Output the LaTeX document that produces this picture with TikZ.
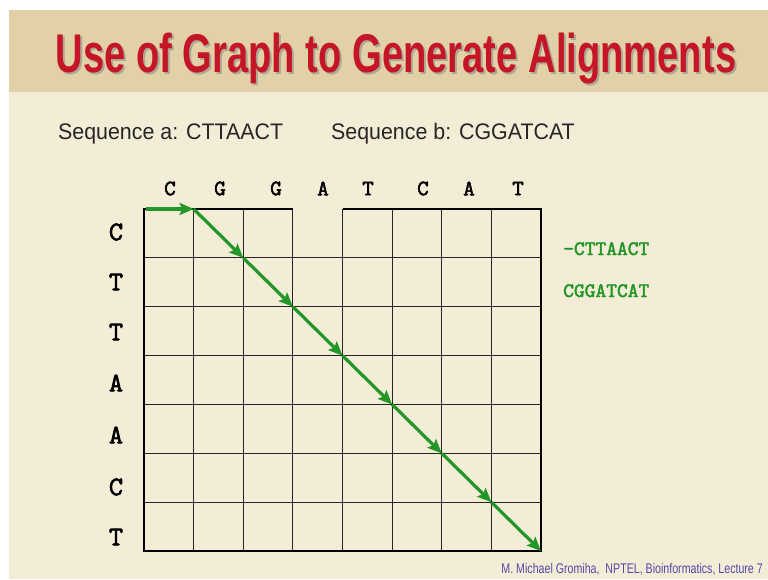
\documentclass[tikz,border=0pt]{standalone}
\usepackage{fontspec}
\setmainfont{Liberation Sans}
\newfontfamily\titlefont[FakeStretch=0.70]{Liberation Sans}
\newfontfamily\seqfont[FakeStretch=0.95]{Liberation Sans}
\newfontfamily\footfont[FakeStretch=0.76]{Liberation Sans}
\newfontfamily\basefont[Extension=.otf, FakeBold=2.2]{lmmono10-regular}
\usetikzlibrary{arrows.meta,positioning}
\definecolor{bandtan}{RGB}{226,209,166}
\definecolor{paper}{RGB}{243,236,214}
\definecolor{titlered}{RGB}{196,22,38}
\definecolor{pathgreen}{RGB}{34,150,38}
\definecolor{footblue}{RGB}{82,72,168}

\begin{document}
\begin{tikzpicture}[
    x=1pt, y=-1pt,
    rowlab/.style={font=\basefont\fontsize{27}{27}\selectfont, inner sep=0pt},
    collab/.style={font=\basefont\fontsize{22}{22}\selectfont, inner sep=0pt},
    alnlab/.style={font=\basefont\fontsize{20.5}{20.5}\selectfont, text=pathgreen, inner sep=0pt, anchor=base west},
    seqlab/.style={font=\seqfont\fontsize{22.5}{22.5}\selectfont, text=black!85, inner sep=0pt, anchor=base west},
    cell/.style={draw=black!85, line width=1.1pt},
    gridframe/.style={draw=black, line width=2.6pt},
    move/.style={-{Stealth[length=14pt,width=12pt,inset=2.5pt]}, draw=pathgreen, line width=3.2pt}
]
% page and title band
\fill[white] (0,0) rectangle (768,579);
\fill[paper] (9,92) rectangle (768,579);
\fill[bandtan] (9,10) rectangle (768,92);
\useasboundingbox (0,0) rectangle (768,579);

\node[font=\titlefont\bfseries\fontsize{54.5}{54.5}\selectfont, text=black!45, opacity=0.6, inner sep=0pt, anchor=base] (shadow) at (398,74) {Use of Graph to Generate Alignments};
\node[font=\titlefont\bfseries\fontsize{54.5}{54.5}\selectfont, text=titlered, inner sep=0pt, anchor=base] (title) at (396,72) {Use of Graph to Generate Alignments};

\node[seqlab] (seqa) at (58,139) {Sequence a: CTTAACT};
\node[seqlab] (seqb) at (331,139) {Sequence b: CGGATCAT};

% grid vertices
\foreach \c in {0,...,8}
  \foreach \r in {0,...,7}
    \coordinate (v\c\r) at (144+\c*49.625, 209+\r*48.857);

% column and row letters
\foreach \ch/\xx in {C/170, G/220, G/276, A/323, T/368, C/423, A/469, T/518}
  \node[collab] (col-\xx) at (\xx,188.5) {\ch};
\foreach \ch/\yy in {C/232, T/282, T/332, A/383, A/435, C/487, T/537}
  \node[rowlab] (row-\yy) at (116,\yy) {\ch};

% grid
\foreach \c in {1,...,7}
  \draw[cell] (v\c0) -- (v\c7);
\foreach \r in {1,...,6}
  \draw[cell] (v0\r) -- (v8\r);
\draw[gridframe] (v30) -- (v00) -- (v07) -- (v87) -- (v80) -- (v40);

% alignment path
\draw[move, shorten <=2pt] (v00) -- (v10);
\foreach \a/\b in {10/21, 21/32, 32/43, 43/54, 54/65, 65/76, 76/87}
  \draw[move] (v\a) -- (v\b);

\node[alnlab] (alna) at (563,255) {-CTTAACT};
\node[alnlab] (alnb) at (563,297) {CGGATCAT};

\node[font=\footfont\fontsize{14}{14}\selectfont, text=footblue, inner sep=0pt, anchor=base east] (credit) at (763,573) {M. Michael Gromiha,\ \ NPTEL, Bioinformatics, Lecture 7};
\end{tikzpicture}
\end{document}
